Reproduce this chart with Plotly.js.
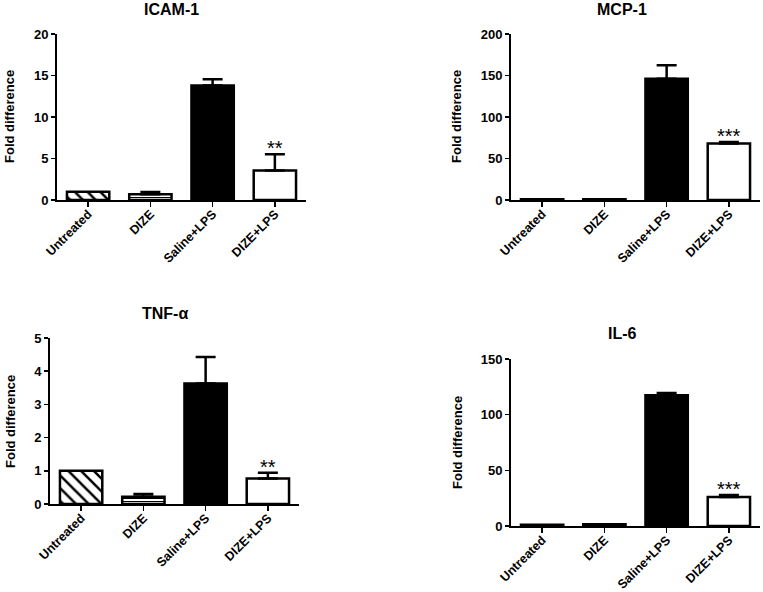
<!DOCTYPE html>
<html>
<head>
<meta charset="utf-8">
<script src="https://cdn.plot.ly/plotly-3.0.1.min.js"></script>
<style>html,body{margin:0;padding:0;background:#fff}#chart{width:763px;height:592px}</style>
</head>
<body>
<div id="chart"></div>
<script>
const categories = ['Untreated', 'DIZE', 'Saline+LPS', 'DIZE+LPS'];

const icamMean = [1.0, 0.7, 13.8, 3.55];
const icamErr  = [0, 0.25, 0.75, 1.95];
const icamSig  = ['', '', '', '**'];

const mcpMean = [1.0, 0.8, 146, 68];
const mcpErr  = [0, 0, 16.5, 1.8];
const mcpSig  = ['', '', '', '***'];

const tnfMean = [1.0, 0.22, 3.63, 0.77];
const tnfErr  = [0, 0.08, 0.8, 0.17];
const tnfSig  = ['', '', '', '**'];

const il6Mean = [1.2, 1.5, 117.5, 26];
const il6Err  = [0, 0, 2, 1.8];
const il6Sig  = ['', '', '', '***'];

const panelTitles = ['ICAM-1', 'MCP-1', 'TNF-α', 'IL-6'];
const yTitle = 'Fold difference';
const yMax = [20, 200, 5, 150];
const yStep = [5, 50, 1, 50];

const W = 763, H = 592;
const FONT = 'Liberation Sans, Arial, Helvetica, sans-serif';

// per-category bar styles
const barColor = ['white', 'white', 'black', 'white'];
const barPattern = ['\\', '-', '', ''];
const patSize = [9, 3, 8, 8];
const patSolid = [0.28, 0.35, 0.2, 0.2];

// plot-area boxes in pixels [left, right, top, bottom]
const boxes = [
  [57, 306, 34, 200],
  [511, 760, 34, 200],
  [50, 299, 338, 504],
  [511, 760, 359, 526]
];
const titlePos = [[171, 10], [622, 10], [165, 313], [622, 333]];
const yTitlePos = [[10, 117], [457, 117], [10, 422], [457, 443]];

const means = [icamMean, mcpMean, tnfMean, il6Mean];
const errs = [icamErr, mcpErr, tnfErr, il6Err];
const sigs = [icamSig, mcpSig, tnfSig, il6Sig];

const data = [];
const layout = {
  width: W, height: H,
  margin: {l: 0, r: 0, t: 0, b: 0},
  paper_bgcolor: 'white', plot_bgcolor: 'white',
  showlegend: false,
  barmode: 'overlay',
  font: {family: FONT, color: 'black'},
  annotations: []
};

for (let i = 0; i < 4; i++) {
  const n = i === 0 ? '' : String(i + 1);
  const b = boxes[i];
  for (let k = 0; k < categories.length; k++) {
    const m = {
      color: barColor[k],
      line: {color: 'black', width: 2.5}
    };
    if (barPattern[k]) {
      m.pattern = {
        shape: barPattern[k], fillmode: 'replace',
        fgcolor: 'black', bgcolor: 'white',
        size: patSize[k], solidity: patSolid[k]
      };
    }
    data.push({
      type: 'bar',
      x: [categories[k]],
      y: [means[i][k]],
      xaxis: 'x' + n, yaxis: 'y' + n,
      width: 0.68,
      marker: m,
      opacity: 1,
      error_y: {
        type: 'data', symmetric: false, visible: errs[i][k] > 0,
        array: [errs[i][k]], arrayminus: [0],
        color: 'black', thickness: 2.5, width: 10
      },
      hoverinfo: 'x+y'
    });
  }
  layout['xaxis' + n] = {
    domain: [b[0] / W, b[1] / W],
    anchor: 'y' + n,
    type: 'category',
    categoryorder: 'array', categoryarray: categories,
    range: [-0.5, 3.5],
    showline: true, linecolor: 'black', linewidth: 2,
    ticks: 'outside', ticklen: 5, tickwidth: 1.5, tickcolor: 'black',
    tickangle: -45, ticklabelstandoff: -5,
    tickfont: {family: FONT, size: 12.5, color: 'black', weight: 'bold'},
    showgrid: false, zeroline: false, fixedrange: true
  };
  layout['yaxis' + n] = {
    domain: [1 - b[3] / H, 1 - b[2] / H],
    anchor: 'x' + n,
    range: [0, yMax[i]],
    dtick: yStep[i], tick0: 0,
    showline: true, linecolor: 'black', linewidth: 2,
    ticks: 'outside', ticklen: 4, tickwidth: 1.5, tickcolor: 'black',
    tickfont: {family: FONT, size: 13, color: 'black', weight: 'bold'},
    showgrid: false, zeroline: false, fixedrange: true
  };
  layout.annotations.push({
    xref: 'paper', yref: 'paper',
    x: titlePos[i][0] / W, y: 1 - titlePos[i][1] / H,
    xanchor: 'center', yanchor: 'middle',
    text: '<b>' + panelTitles[i] + '</b>', showarrow: false,
    font: {family: FONT, size: 16, color: 'black'}
  });
  layout.annotations.push({
    xref: 'paper', yref: 'paper',
    x: yTitlePos[i][0] / W, y: 1 - yTitlePos[i][1] / H,
    xanchor: 'center', yanchor: 'middle',
    text: '<b>' + yTitle + '</b>', showarrow: false, textangle: -90,
    font: {family: FONT, size: 13, color: 'black'}
  });
  for (let k = 0; k < categories.length; k++) {
    if (!sigs[i][k]) continue;
    layout.annotations.push({
      xref: 'x' + n, yref: 'y' + n,
      x: categories[k], y: means[i][k] + errs[i][k],
      yanchor: 'bottom', yshift: -7,
      text: sigs[i][k], showarrow: false,
      font: {family: FONT, size: 20, color: 'black'}
    });
  }
}

Plotly.newPlot('chart', data, layout, {displayModeBar: false, staticPlot: true});
</script>
</body>
</html>
